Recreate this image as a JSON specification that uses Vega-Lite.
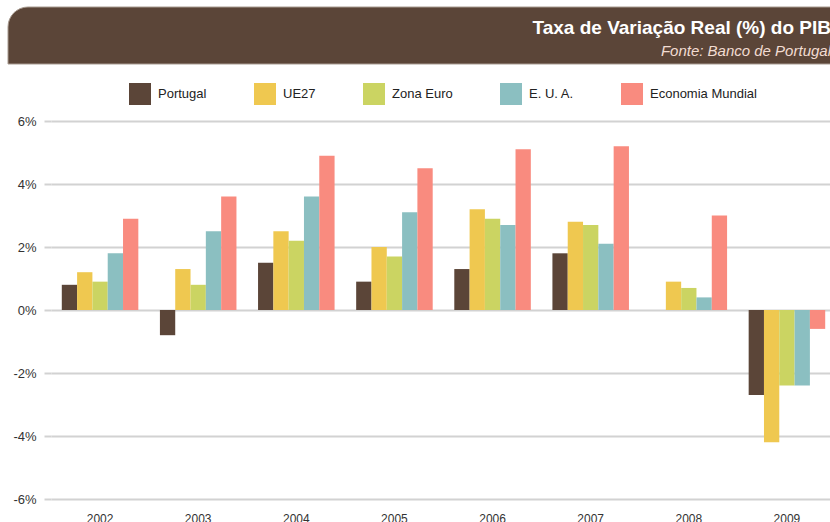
{
  "$schema": "https://vega.github.io/schema/vega-lite/v6.json",
  "autosize": {"type": "none"},
  "padding": {"left": 8, "top": 7, "right": 0, "bottom": 0},
  "background": "white",
  "params": [
    {"name": "width", "value": 822},
    {"name": "height", "value": 515}
  ],
  "spacing": 18,
  "bounds": "full",
  "resolve": {"legend": {"color": "independent"}},
  "config": {"view": {"stroke": null}, "font": "Liberation Sans"},
  "datasets": {
    "gdp": [
      {"ano": "2002", "serie": "Portugal", "valor": 0.8},
      {"ano": "2002", "serie": "UE27", "valor": 1.2},
      {"ano": "2002", "serie": "Zona Euro", "valor": 0.9},
      {"ano": "2002", "serie": "E. U. A.", "valor": 1.8},
      {"ano": "2002", "serie": "Economia Mundial", "valor": 2.9},
      {"ano": "2003", "serie": "Portugal", "valor": -0.8},
      {"ano": "2003", "serie": "UE27", "valor": 1.3},
      {"ano": "2003", "serie": "Zona Euro", "valor": 0.8},
      {"ano": "2003", "serie": "E. U. A.", "valor": 2.5},
      {"ano": "2003", "serie": "Economia Mundial", "valor": 3.6},
      {"ano": "2004", "serie": "Portugal", "valor": 1.5},
      {"ano": "2004", "serie": "UE27", "valor": 2.5},
      {"ano": "2004", "serie": "Zona Euro", "valor": 2.2},
      {"ano": "2004", "serie": "E. U. A.", "valor": 3.6},
      {"ano": "2004", "serie": "Economia Mundial", "valor": 4.9},
      {"ano": "2005", "serie": "Portugal", "valor": 0.9},
      {"ano": "2005", "serie": "UE27", "valor": 2.0},
      {"ano": "2005", "serie": "Zona Euro", "valor": 1.7},
      {"ano": "2005", "serie": "E. U. A.", "valor": 3.1},
      {"ano": "2005", "serie": "Economia Mundial", "valor": 4.5},
      {"ano": "2006", "serie": "Portugal", "valor": 1.3},
      {"ano": "2006", "serie": "UE27", "valor": 3.2},
      {"ano": "2006", "serie": "Zona Euro", "valor": 2.9},
      {"ano": "2006", "serie": "E. U. A.", "valor": 2.7},
      {"ano": "2006", "serie": "Economia Mundial", "valor": 5.1},
      {"ano": "2007", "serie": "Portugal", "valor": 1.8},
      {"ano": "2007", "serie": "UE27", "valor": 2.8},
      {"ano": "2007", "serie": "Zona Euro", "valor": 2.7},
      {"ano": "2007", "serie": "E. U. A.", "valor": 2.1},
      {"ano": "2007", "serie": "Economia Mundial", "valor": 5.2},
      {"ano": "2008", "serie": "Portugal", "valor": 0.0},
      {"ano": "2008", "serie": "UE27", "valor": 0.9},
      {"ano": "2008", "serie": "Zona Euro", "valor": 0.7},
      {"ano": "2008", "serie": "E. U. A.", "valor": 0.4},
      {"ano": "2008", "serie": "Economia Mundial", "valor": 3.0},
      {"ano": "2009", "serie": "Portugal", "valor": -2.7},
      {"ano": "2009", "serie": "UE27", "valor": -4.2},
      {"ano": "2009", "serie": "Zona Euro", "valor": -2.4},
      {"ano": "2009", "serie": "E. U. A.", "valor": -2.4},
      {"ano": "2009", "serie": "Economia Mundial", "valor": -0.6}
    ],
    "cabecalho": [{"parte": "cabecalho"}],
    "vazio": [{"parte": "vazio"}]
  },
  "vconcat": [
    {
      "width": 823,
      "height": 57,
      "data": {"name": "cabecalho"},
      "mark": {"type": "rect", "fill": "#5b4538", "stroke": "#a89b90", "strokeWidth": 1, "cornerRadiusTopLeft": 20},
      "encoding": {},
      "title": {
        "text": "Taxa de Variação Real (%) do PIB",
        "subtitle": "Fonte: Banco de Portugal",
        "anchor": "end",
        "frame": "group",
        "orient": "top",
        "offset": -52,
        "color": "#ffffff",
        "font": "Liberation Sans",
        "fontWeight": "bold",
        "fontSize": 19,
        "subtitleColor": "#f2dcd2",
        "subtitleFont": "Liberation Sans",
        "subtitleFontStyle": "italic",
        "subtitleFontSize": 15,
        "subtitlePadding": 6
      }
    },
    {
      "spacing": 0,
      "bounds": "full",
      "resolve": {"legend": {"color": "independent"}},
      "hconcat": [
        {
          "width": 1,
          "height": 378,
          "data": {"name": "vazio"},
          "mark": {"type": "point", "opacity": 0},
          "encoding": {}
        },
        {
          "width": 785,
          "height": 378,
          "data": {"name": "gdp"},
          "mark": {"type": "bar"},
          "encoding": {
            "x": {
              "field": "ano", "type": "ordinal",
              "scale": {"paddingInner": 0.22, "paddingOuter": 0.11},
              "axis": {"title": null, "labelAngle": 0, "domain": false, "ticks": false, "labelPadding": 14, "labelFontSize": 12, "labelColor": "#333333", "grid": false}
            },
            "xOffset": {
              "field": "serie", "type": "nominal",
              "sort": ["Portugal", "UE27", "Zona Euro", "E. U. A.", "Economia Mundial"],
              "scale": {"paddingInner": 0, "paddingOuter": 0}
            },
            "y": {
              "field": "valor", "type": "quantitative",
              "scale": {"domain": [-6, 6], "nice": false},
              "axis": {
                "title": null, "values": [-6, -4, -2, 0, 2, 4, 6],
                "labelExpr": "datum.value + '%'",
                "domain": false, "tickSize": 7, "tickColor": "#d2d2d2", "tickWidth": 2,
                "gridColor": "#d2d2d2", "gridWidth": 2,
                "labelPadding": 8, "labelFontSize": 13, "labelColor": "#333333",
                "minExtent": 39, "maxExtent": 39
              }
            },
            "color": {
              "field": "serie", "type": "nominal",
              "sort": ["Portugal", "UE27", "Zona Euro", "E. U. A.", "Economia Mundial"],
              "scale": {
                "domain": ["Portugal", "UE27", "Zona Euro", "E. U. A.", "Economia Mundial"],
                "range": ["#5b4538", "#efc850", "#cbd462", "#8bbfc1", "#f98b7f"]
              },
              "legend": {
                "title": null, "orient": "none", "legendX": 78, "legendY": -38,
                "direction": "horizontal", "symbolType": "square", "symbolSize": 484,
                "symbolStrokeWidth": 0, "labelFontSize": 13, "labelOffset": 7,
                "columnPadding": 47, "labelColor": "#222222", "padding": 0
              }
            }
          }
        }
      ]
    }
  ]
}
